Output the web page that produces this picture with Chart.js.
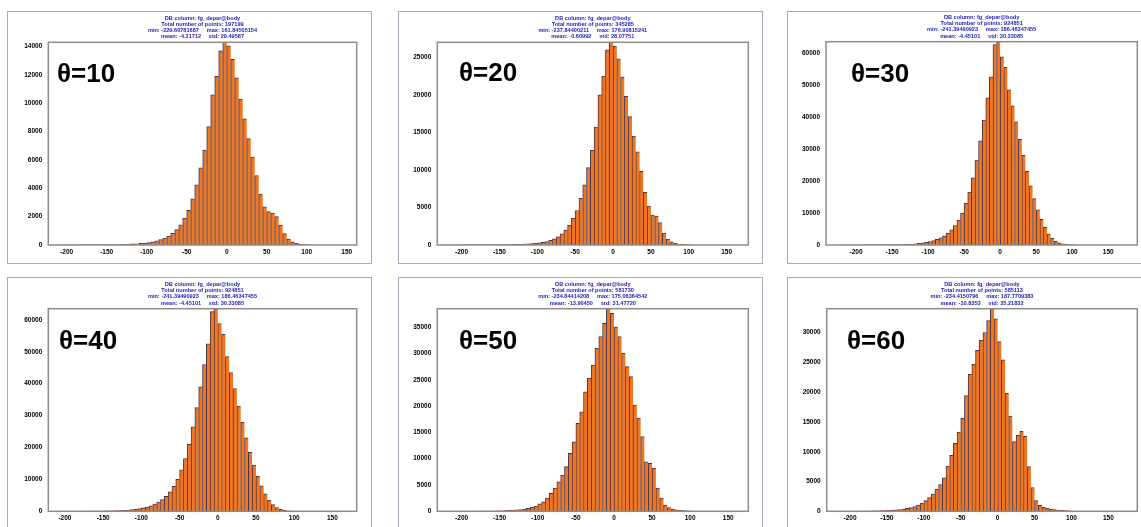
<!DOCTYPE html>
<html>
<head>
<meta charset="utf-8">
<script src="https://cdn.jsdelivr.net/npm/chart.js@4.4.1/dist/chart.umd.min.js"></script>
<style>
  body { margin: 0; background: #fff; width: 1141px; height: 527px; overflow: hidden; position: relative; }
  .frame { position: absolute; box-sizing: border-box; border: 1px solid #a8a8c4; }
  canvas { position: absolute; }
  .theta { position: absolute; font: bold 26px "Liberation Sans", Arial, sans-serif; line-height: 26px; color: #000; white-space: nowrap; }
</style>
</head>
<body>
<script>
// histogram bins, 5 wide, lower edges
const binStarts = [-225, -220, -215, -210, -205, -200, -195, -190, -185, -180, -175, -170, -165, -160, -155, -150,
  -145, -140, -135, -130, -125, -120, -115, -110, -105, -100, -95, -90, -85, -80, -75, -70, -65, -60, -55, -50,
  -45, -40, -35, -30, -25, -20, -15, -10, -5, 0, 5, 10, 15, 20, 25, 30, 35, 40, 45, 50, 55, 60, 65, 70, 75, 80,
  85, 90, 95, 100];
const xTicks = [-200, -150, -100, -50, 0, 50, 100, 150];

const counts10 = [0, 1, 2, 3, 4, 5, 6, 8, 10, 12, 14, 16, 18, 20, 24, 28,
  32, 38, 44, 52, 62, 75, 90, 110, 135, 170, 220, 290, 380, 490, 630, 820, 1080, 1420, 1900, 2450,
  3250, 4250, 5450, 6700, 8350, 10600, 11900, 13700, 14300, 14050, 13100, 11800, 10300, 8900, 7500, 6200, 4900, 3600, 2700, 2350, 2250, 2000, 1400, 800, 420, 220,
  120, 65, 35, 15];
const counts20 = [1, 3, 4, 6, 8, 10, 12, 15, 18, 22, 25, 28, 32, 36, 42, 48,
  55, 65, 75, 90, 105, 125, 150, 180, 220, 280, 360, 470, 620, 830, 1100, 1500, 2000, 2650, 3600, 4600,
  6200, 8000, 10300, 12600, 15700, 20000, 22500, 26000, 27000, 26500, 24800, 22400, 19800, 17100, 14500, 12400, 9800, 7000, 5200, 4000, 3850, 3000, 1600, 800, 420, 230,
  130, 80, 40, 15];
const counts30 = [2, 3, 5, 7, 10, 14, 18, 24, 30, 38, 45, 55, 65, 80, 95, 115,
  140, 170, 210, 260, 320, 400, 500, 640, 820, 1050, 1350, 1750, 2250, 2900, 3700, 4700, 6100, 7800, 10000, 13000,
  16500, 21000, 26500, 32500, 39000, 46000, 52500, 62600, 63500, 58800, 55500, 48500, 43500, 38500, 33000, 28000, 23000, 18500, 14500, 11000, 8000, 5500, 3500, 2100, 1200, 650,
  350, 180, 90, 40];
const counts40 = counts30; // same database column and statistics as θ=30
const counts50 = [0, 1, 2, 3, 5, 8, 10, 15, 20, 25, 30, 40, 50, 60, 80, 100,
  130, 170, 220, 280, 350, 440, 570, 760, 1000, 1400, 1800, 2500, 3400, 4400, 5600, 6900, 8500, 11000, 13200, 16700,
  18900, 22700, 25300, 27800, 31000, 33200, 35700, 38500, 37600, 35000, 33200, 30000, 27500, 25600, 20200, 17700, 14200, 9400, 9100, 8200, 4400, 2500, 1200, 700, 440, 300,
  200, 130, 80, 40];
const counts60 = [1, 2, 4, 6, 10, 15, 20, 25, 30, 40, 50, 65, 80, 100, 120, 150,
  190, 240, 300, 380, 480, 620, 800, 1050, 1400, 1800, 2300, 2900, 3700, 4500, 5600, 7600, 9400, 11400, 13300, 15600,
  19400, 23000, 24700, 27000, 28700, 30000, 32000, 34000, 32300, 28500, 25400, 19800, 16000, 11700, 12800, 13400, 12600, 7500, 4000, 1800, 1000, 670, 500, 380, 300, 220,
  160, 110, 70, 40];

const yTicks10 = [0, 2000, 4000, 6000, 8000, 10000, 12000, 14000];
const yTicks20 = [0, 5000, 10000, 15000, 20000, 25000];
const yTicks30 = [0, 10000, 20000, 30000, 40000, 50000, 60000];
const yTicks40 = yTicks30;
const yTicks50 = [0, 5000, 10000, 15000, 20000, 25000, 30000, 35000];
const yTicks60 = [0, 5000, 10000, 15000, 20000, 25000, 30000];

const stats10 = ['DB column: fg_depar@body', 'Total number of points: 197199', 'min: -229.60781687     max: 161.84505154', 'mean: -4.21712     std: 29.49587'];
const stats20 = ['DB column: fg_depar@body', 'Total number of points: 345285', 'min: -237.84400211     max: 176.90815241', 'mean: -0.60992     std: 28.07751'];
const stats30 = ['DB column: fg_depar@body', 'Total number of points: 924851', 'min: -241.39490923     max: 186.46347455', 'mean: -4.45101     std: 30.33085'];
const stats40 = stats30;
const stats50 = ['DB column: fg_depar@body', 'Total number of points: 581730', 'min: -234.84414208     max: 175.06364542', 'mean: -13.90450     std: 31.47720'];
const stats60 = ['DB column: fg_depar@body', 'Total number of points: 585113', 'min: -234.4150796     max: 187.7709383', 'mean: -10.8353     std: 35.21832'];

const thetas = ['θ=10', 'θ=20', 'θ=30', 'θ=40', 'θ=50', 'θ=60'];

// page layout: frame box, plot area inside it, axis span, label spot
const layout = [
  { frame: [7, 11, 365, 253], plot: [41.3, 31.3, 308.4, 202.7], span: [-223, 162.5], label: [57, 59.5] },
  { frame: [398, 11, 365, 253], plot: [39.3, 31.3, 311, 202.7], span: [-232, 178.6], label: [459, 58.5] },
  { frame: [787, 11, 365, 253], plot: [39, 30.7, 311.3, 203.3], span: [-241.7, 190.3], label: [851, 59.5] },
  { frame: [7, 277, 365, 253], plot: [41.3, 31.7, 308.4, 202.6], span: [-221.8, 181.8], label: [59, 326.5] },
  { frame: [398, 277, 365, 253], plot: [39.3, 31.7, 311, 202.6], span: [-231.9, 176.3], label: [459, 326.5] },
  { frame: [787, 277, 365, 253], plot: [39.7, 31.7, 310.6, 202.6], span: [-231.6, 189.2], label: [847, 326.5] }
];

const series = [counts10, counts20, counts30, counts40, counts50, counts60];
const yTickSets = [yTicks10, yTicks20, yTicks30, yTicks40, yTicks50, yTicks60];
const statSets = [stats10, stats20, stats30, stats40, stats50, stats60];

const fontFamily = '"Liberation Sans", Arial, sans-serif';

const plotBorder = {
  id: 'plotBorder',
  afterDatasetsDraw(chart) {
    const a = chart.chartArea;
    const c = chart.ctx;
    c.save();
    c.strokeStyle = '#8c8c8c';
    c.lineWidth = 1.5;
    c.strokeRect(a.left, a.top, a.right - a.left, a.bottom - a.top);
    c.restore();
  }
};

function makePanel(i) {
  const box = layout[i];
  const [fx, fy, fw, fh] = box.frame;
  const [pl, pt, pw, ph] = box.plot;

  const frame = document.createElement('div');
  frame.className = 'frame';
  frame.style.left = fx + 'px';
  frame.style.top = fy + 'px';
  frame.style.width = fw + 'px';
  frame.style.height = fh + 'px';
  document.body.appendChild(frame);

  const canvas = document.createElement('canvas');
  canvas.width = fw;
  canvas.height = fh;
  canvas.style.left = fx + 'px';
  canvas.style.top = fy + 'px';
  document.body.appendChild(canvas);

  const lbl = document.createElement('div');
  lbl.className = 'theta';
  lbl.textContent = thetas[i];
  lbl.style.left = box.label[0] + 'px';
  lbl.style.top = box.label[1] + 'px';
  document.body.appendChild(lbl);

  const counts = series[i];
  const yTicks = yTickSets[i];
  const lineH = 6.1;
  const titleBottom = 2.6;
  const titleTop = pt - 4 * lineH - titleBottom;

  new Chart(canvas, {
    type: 'bar',
    data: {
      datasets: [{
        data: binStarts.map((b, k) => ({ x: b + 2.5, y: counts[k] })),
        backgroundColor: '#f2761e',
        borderColor: '#45344f',
        borderWidth: { top: 1, left: 1, right: 0, bottom: 0 },
        borderSkipped: false,
        barPercentage: 1,
        categoryPercentage: 1,
        grouped: false
      }]
    },
    options: {
      responsive: false,
      animation: false,
      devicePixelRatio: 1,
      layout: { padding: { left: 0, top: 0, right: fw - (pl + pw), bottom: 0 } },
      plugins: {
        legend: { display: false },
        tooltip: { enabled: false },
        title: {
          display: true,
          text: statSets[i],
          fullSize: false,
          color: '#2424b8',
          font: { family: fontFamily, size: 5.6, weight: 'bold', lineHeight: lineH + 'px' },
          padding: { top: titleTop, bottom: titleBottom }
        }
      },
      scales: {
        x: {
          type: 'linear',
          offset: false,
          min: box.span[0],
          max: box.span[1],
          grid: { display: false, drawTicks: false },
          border: { display: false },
          ticks: { color: '#000', font: { family: fontFamily, size: 6.5, weight: 'bold' }, padding: 3, maxRotation: 0, autoSkip: false,
                   callback: v => String(v) },
          afterBuildTicks: s => { s.ticks = xTicks.map(v => ({ value: v })); },
          afterFit: s => { s.height = fh - (pt + ph); }
        },
        y: {
          min: 0,
          max: Math.max(...counts),
          grid: { display: false, drawTicks: false },
          border: { display: false },
          ticks: { color: '#000', font: { family: fontFamily, size: 6.5, weight: 'bold' }, padding: 6,
                   callback: v => String(v) },
          afterBuildTicks: s => { s.ticks = yTicks.map(v => ({ value: v })); },
          afterFit: s => { s.width = pl; }
        }
      }
    },
    plugins: [plotBorder]
  });
}

for (let i = 0; i < 6; i++) makePanel(i);
</script>
</body>
</html>
